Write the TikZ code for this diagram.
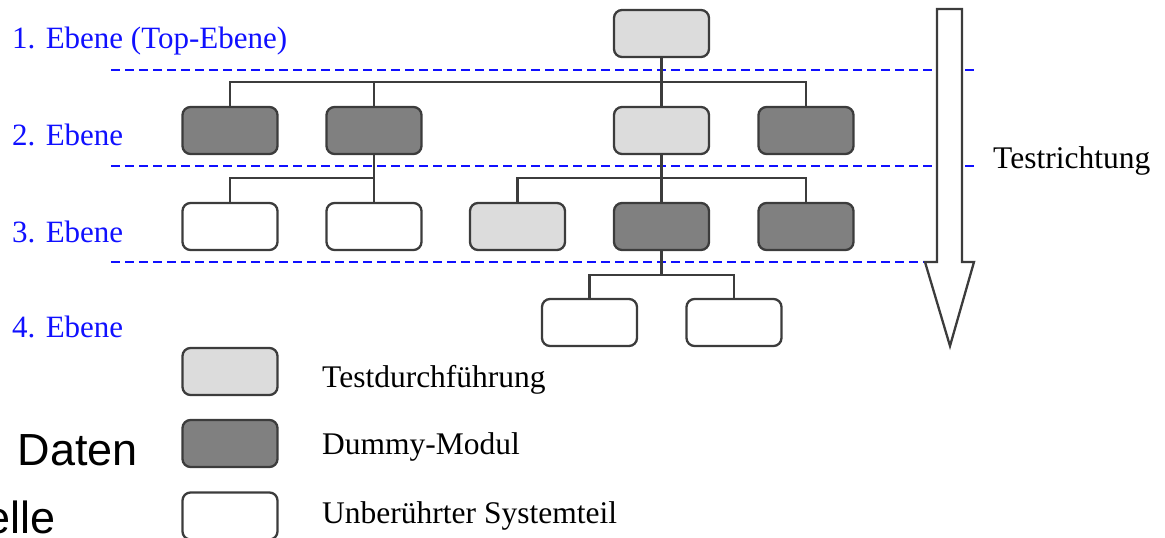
\documentclass[tikz,border=0pt]{standalone}
\usepackage{fontspec}
\setmainfont{Liberation Serif}
\newfontfamily\arialfont{Liberation Sans}
\definecolor{boxline}{HTML}{3C3C3C}
\definecolor{testfill}{HTML}{DCDCDC}
\definecolor{dummyfill}{HTML}{808080}
\definecolor{levelblue}{HTML}{1010FF}
\begin{document}
\begin{tikzpicture}[x=1pt,y=-1pt,
  module/.style={draw=boxline, line width=2.3pt, rounded corners=8pt,
                 minimum width=95pt, minimum height=47pt, inner sep=0pt},
  tested/.style={module, fill=testfill},
  dummy/.style={module, fill=dummyfill},
  untouched/.style={module, fill=white},
  link/.style={draw=boxline, line width=2.2pt},
  levelline/.style={draw=levelblue, line width=2.2pt, dash pattern=on 9pt off 5pt},
  lvllabel/.style={text=levelblue, anchor=base west, inner sep=0pt,
                   font=\fontsize{31}{37}\selectfont},
  caption/.style={anchor=base west, inner sep=0pt, font=\fontsize{31.5}{37}\selectfont},
  sidetext/.style={inner sep=0pt, font=\arialfont\fontsize{45}{54}\selectfont}
]
\useasboundingbox (0,0) rectangle (1165,538);

% level separators
\coordinate (s1a) at (111,70);  \coordinate (s1b) at (975,70);
\coordinate (s2a) at (111,166); \coordinate (s2b) at (975,166);
\coordinate (s3a) at (111,262); \coordinate (s3b) at (975,262);
\draw[levelline] (s1a) -- (s1b);
\draw[levelline] (s2a) -- (s2b);
\draw[levelline] (s3a) -- (s3b);

% level labels
\node[lvllabel] (l1) at (12,48)  {1. Ebene (Top-Ebene)};
\node[lvllabel] (l2) at (12,145) {2. Ebene};
\node[lvllabel] (l3) at (12,242) {3. Ebene};
\node[lvllabel] (l4) at (12,337) {4. Ebene};

% module hierarchy
\node[tested]    (top) at (661.5,33.5)  {};
\node[dummy]     (a2)  at (230,130.5)   {};
\node[dummy]     (b2)  at (374,130.5)   {};
\node[tested]    (c2)  at (661.5,130.5) {};
\node[dummy]     (d2)  at (806,130.5)   {};
\node[untouched] (a3)  at (230,226.5)   {};
\node[untouched] (b3)  at (374,226.5)   {};
\node[tested]    (c3)  at (517.5,226.5) {};
\node[dummy]     (d3)  at (661.5,226.5) {};
\node[dummy]     (e3)  at (806,226.5)   {};
\node[untouched] (a4)  at (589.5,322.5) {};
\node[untouched] (b4)  at (734,322.5)   {};

% tree connectors
\draw[link] (top.south) -- (661.5,82) coordinate (j1);
\draw[link] (j1) -| (a2.north);
\draw[link] (j1) -| (b2.north);
\draw[link] (j1) -- (c2.north);
\draw[link] (j1) -| (d2.north);

\draw[link] (b2.south) -- (374,178) coordinate (j2);
\draw[link] (j2) -| (a3.north);
\draw[link] (j2) -- (b3.north);

\draw[link] (c2.south) -- (661.5,178) coordinate (j3);
\draw[link] (j3) -| (c3.north);
\draw[link] (j3) -- (d3.north);
\draw[link] (j3) -| (e3.north);

\draw[link] (d3.south) -- (661.5,275) coordinate (j4);
\draw[link] (j4) -| (a4.north);
\draw[link] (j4) -| (b4.north);

% test direction arrow
\draw[draw=boxline, line width=2.3pt, fill=white, line join=miter]
  (937,9) -- (962,9) -- (962,262) -- (974,262) -- (950,346)
  -- (925,262) -- (937,262) -- cycle;
\node[caption] (dir) at (993,168) {Testrichtung};

% legend
\node[tested]    (k1) at (230,371.5) {};
\node[dummy]     (k2) at (230,443.5) {};
\node[untouched] (k3) at (230,516)   {};
\node[caption] (t1) at (322,387) {Testdurchführung};
\node[caption] (t2) at (322,454) {Dummy-Modul};
\node[caption] (t3) at (322,523) {Unberührter Systemteil};

% partially visible side text
\node[sidetext, anchor=base east] (daten) at (138,465) {Daten};
\node[sidetext, anchor=base east] (elle)  at (56,533)  {elle};
\end{tikzpicture}
\end{document}
